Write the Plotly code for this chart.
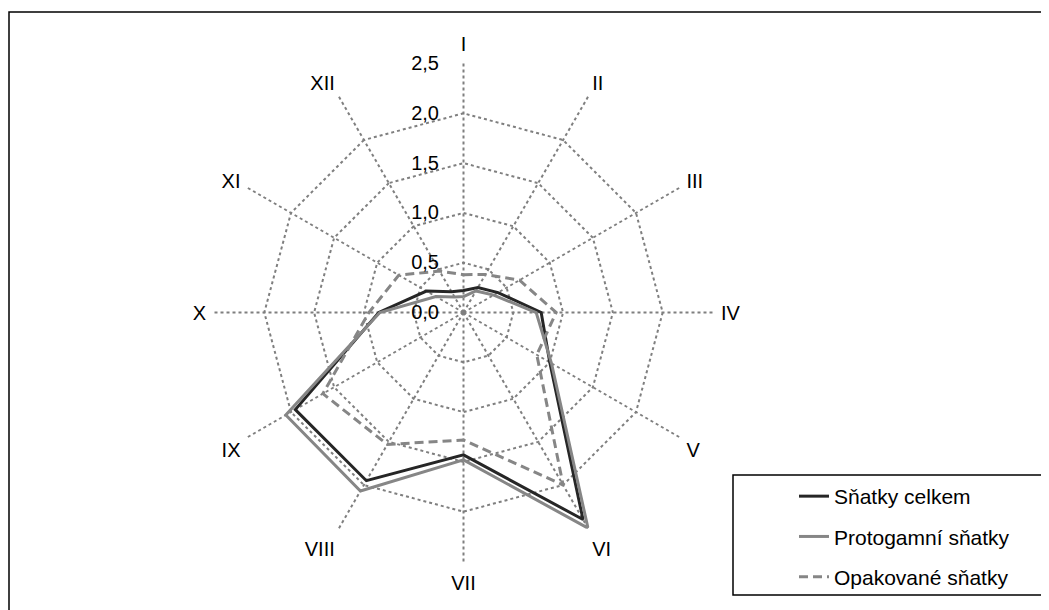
import plotly.graph_objects as go

months = ["I", "II", "III", "IV", "V", "VI", "VII", "VIII", "IX", "X", "XI", "XII"]
snatky_celkem = [0.22, 0.29, 0.40, 0.78, 1.00, 2.40, 1.43, 1.95, 1.95, 0.85, 0.43, 0.24]
protogamni = [0.16, 0.25, 0.35, 0.73, 1.02, 2.50, 1.48, 2.07, 2.06, 0.84, 0.32, 0.18]
opakovane = [0.38, 0.44, 0.65, 0.93, 0.85, 2.00, 1.28, 1.53, 1.63, 0.95, 0.75, 0.48]
radial_ticks = [0.0, 0.5, 1.0, 1.5, 2.0, 2.5]

FONT = "Liberation Sans, Arial, sans-serif"
FS = 20
LFS = 21
OFF = 8  # page body margin
W, H = 1049 - OFF, 610 - OFF


def px(x):
    return (x - OFF) / W


def py(y):
    return 1 - (y - OFF) / H


def closed(v):
    return v + v[:1]


theta = closed(months)

fig = go.Figure()
fig.add_trace(go.Scatterpolar(r=closed(snatky_celkem), theta=theta, mode="lines",
                              name="Sňatky celkem", legendgroup="a",
                              line=dict(color="#262626", width=3)))
fig.add_trace(go.Scatterpolar(r=closed(protogamni), theta=theta, mode="lines",
                              name="Protogamní sňatky", legendgroup="b",
                              line=dict(color="#868686", width=3)))
fig.add_trace(go.Scatterpolar(r=closed(opakovane), theta=theta, mode="lines",
                              name="Opakované sňatky", legendgroup="c",
                              line=dict(color="#868686", width=3, dash="9px,5px")))

cx, cy, R = 463.5, 312.5, 249.0
fig.update_layout(
    width=W, height=H,
    margin=dict(l=0, r=0, t=0, b=0),
    paper_bgcolor="white",
    separators=", ",
    font=dict(family=FONT, size=FS, color="black"),
    polar=dict(
        domain=dict(x=[px(cx - R), px(cx + R)], y=[py(cy + R), py(cy - R)]),
        bgcolor="white",
        gridshape="linear",
        radialaxis=dict(range=[0, 2.5001], tickvals=radial_ticks, tickformat=".1f",
                        angle=90, tickangle=90, side="counterclockwise",
                        showline=False, ticks="outside", ticklen=17,
                        tickcolor="rgba(0,0,0,0)",
                        gridcolor="#7f7f7f", gridwidth=2, griddash="dot",
                        tickfont=dict(size=FS, color="black", family=FONT)),
        angularaxis=dict(direction="clockwise", rotation=90, categoryorder="array",
                         categoryarray=months, showline=False,
                         ticks="outside", ticklen=4, tickcolor="rgba(0,0,0,0)",
                         gridcolor="#7f7f7f", gridwidth=2, griddash="dot",
                         tickfont=dict(size=FS, color="black", family=FONT)),
    ),
    showlegend=True,
    legend=dict(x=px(794), xanchor="left", y=py(476), yanchor="top",
                borderwidth=0, bgcolor="rgba(0,0,0,0)",
                tracegroupgap=10, font=dict(size=LFS, family=FONT, color="black")),
    shapes=[
        dict(type="rect", xref="paper", yref="paper",
             x0=px(9), x1=1.02, y0=-0.02, y1=py(12),
             line=dict(color="black", width=1.5)),
        dict(type="rect", xref="paper", yref="paper",
             x0=px(733), x1=px(1045), y0=py(595), y1=py(475),
             line=dict(color="black", width=1.5), fillcolor="rgba(0,0,0,0)"),
    ],
)

fig.write_html("out.html")
